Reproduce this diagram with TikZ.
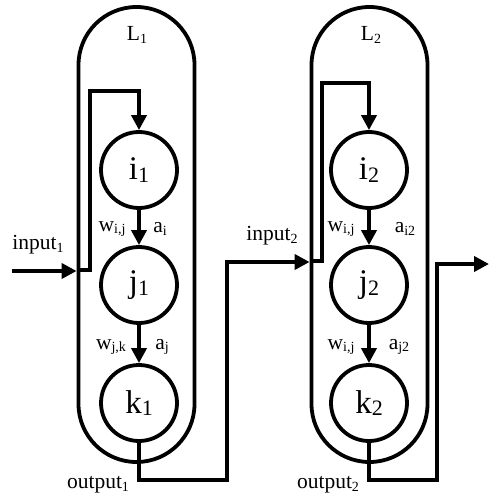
\documentclass[tikz,border=0pt]{standalone}
\usepackage{fontspec}
\setmainfont{Liberation Serif}
\usetikzlibrary{arrows.meta}
\newcommand\bigsub[1]{\raisebox{-0.08em}{\fontsize{22}{22}\selectfont #1}}
\newcommand\smsub[1]{\raisebox{-0.12em}{\fontsize{14}{14}\selectfont #1}}
\tikzset{
  capsule/.style={draw, line width=3.8pt, rounded corners=58pt, minimum width=116pt, minimum height=455pt, inner sep=0pt},
  neuron/.style={draw, circle, line width=3.8pt, minimum size=76pt, inner sep=0pt, font=\fontsize{33}{33}\selectfont},
  wire/.style={line width=3.8pt},
  arr/.style={wire, -{Triangle[length=15pt,width=15pt]}},
  lab/.style={font=\fontsize{21.5}{21.5}\selectfont, inner sep=1pt},
}
\begin{document}
\begin{tikzpicture}[x=1pt,y=-1pt]
\useasboundingbox (0,0) rectangle (489,494);
% capsules
\node[capsule] (cap1) at (136.5,234.5) {};
\node[capsule] (cap2) at (369.5,234.5) {};
\node[lab] (L1) at (137,35) {L\smsub{1}};
\node[lab] (L2) at (371,35) {L\smsub{2}};
% neurons
\node[neuron] (i1) at (139,170) {i\bigsub{1}};
\node[neuron] (j1) at (139,285) {j\bigsub{1}};
\node[neuron] (k1) at (139,403) {k\bigsub{1}};
\node[neuron] (i2) at (369,170) {i\bigsub{2}};
\node[neuron] (j2) at (369,285) {j\bigsub{2}};
\node[neuron] (k2) at (369,403) {k\bigsub{2}};
% coordinates
\coordinate (l1a) at (78,270);
\coordinate (l1b) at (90,270);
\coordinate (l1c) at (90,91);
\coordinate (l2a) at (310,261);
\coordinate (l2b) at (322,261);
\coordinate (l2c) at (322,83);
\coordinate (in1) at (12,271);
\coordinate (o1a) at (227,480);
\coordinate (o1b) at (227,262);
\coordinate (o2a) at (437,480);
\coordinate (o2b) at (437,264);
\coordinate (o2c) at (489,264);
% internal arrows
\draw[arr] (i1) -- (j1);
\draw[arr] (j1) -- (k1);
\draw[arr] (i2) -- (j2);
\draw[arr] (j2) -- (k2);
% loops
\draw[arr] (l1a) -- (l1b) -- (l1c) -| (i1.north);
\draw[arr] (l2a) -- (l2b) -- (l2c) -| (i2.north);
% input / outputs
\draw[arr] (in1) -- (cap1.west |- in1);
\draw[arr] (k1.south) |- (o1a) -- (o1b) -- (cap2.west |- o1b);
\draw[arr] (k2.south) |- (o2a) -- (o2b) -- (o2c);
% labels
\node[lab] (tin1) at (38,245) {input\smsub{1}};
\node[lab] (tin2) at (272,236) {input\smsub{2}};
\node[lab] (tout1) at (98,485) {output\smsub{1}};
\node[lab] (tout2) at (328,485) {output\smsub{2}};
\node[lab] (w1) at (112,229) {w\smsub{i,j}};
\node[lab] (a1) at (160,229) {a\smsub{i}};
\node[lab] (w2) at (111,347) {w\smsub{j,k}};
\node[lab] (a2) at (162,347) {a\smsub{j}};
\node[lab] (w3) at (341,229) {w\smsub{i,j}};
\node[lab] (a3) at (405,229) {a\smsub{i2}};
\node[lab] (w4) at (341,347) {w\smsub{i,j}};
\node[lab] (a4) at (399,347) {a\smsub{j2}};
\end{tikzpicture}
\end{document}
